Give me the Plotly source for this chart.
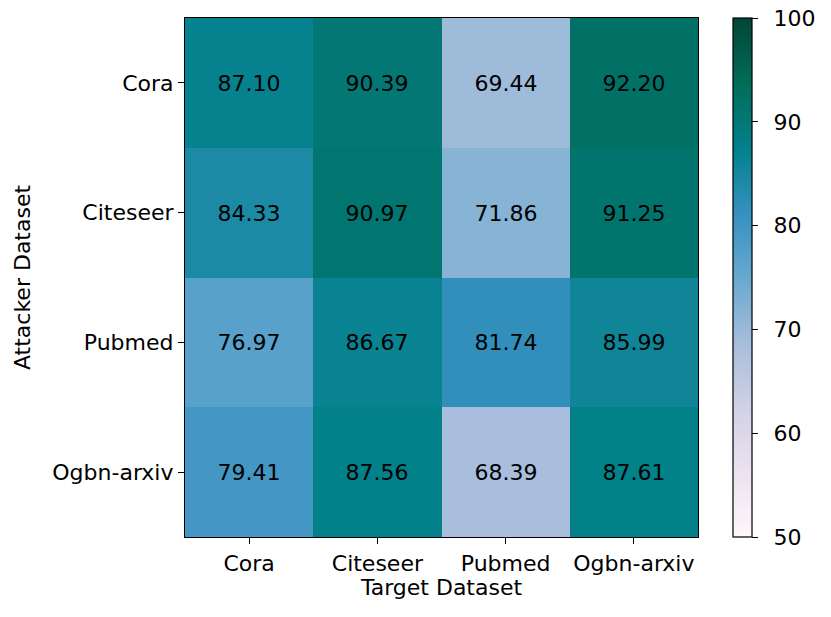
import plotly.graph_objects as go

targets = ["Cora", "Citeseer", "Pubmed", "Ogbn-arxiv"]
attackers = ["Cora", "Citeseer", "Pubmed", "Ogbn-arxiv"]
acc = [
    [87.10, 90.39, 69.44, 92.20],
    [84.33, 90.97, 71.86, 91.25],
    [76.97, 86.67, 81.74, 85.99],
    [79.41, 87.56, 68.39, 87.61],
]
cbar_ticks = [50, 60, 70, 80, 90, 100]

font = dict(family="DejaVu Sans", size=22, color="black")

fig = go.Figure(go.Heatmap(
    z=acc, x=targets, y=attackers,
    colorscale="PuBuGn", zmin=50, zmax=100,
    texttemplate="%{z:.2f}", textfont=dict(family="DejaVu Sans", size=22, color="black"),
    xgap=0, ygap=0,
    colorbar=dict(
        x=1.068, xanchor="left", xpad=0, y=0.5, yanchor="middle", ypad=0,
        len=1, lenmode="fraction",
        thickness=19, outlinewidth=1.2, outlinecolor="black",
        tickmode="array", tickvals=cbar_ticks, ticktext=["\u2002" + str(t) for t in cbar_ticks],
        ticks="outside", ticklen=6, ticklabeloverflow="allow",
        tickcolor="black", tickfont=font,
    ),
))

axis_style = dict(
    showline=True, linecolor="black", linewidth=1.2, mirror=True,
    ticks="outside", ticklen=6, tickcolor="black", tickfont=font,
    showgrid=False, zeroline=False,
)
fig.update_xaxes(title=dict(text="Target Dataset", font=font, standoff=5), **axis_style)
fig.update_yaxes(title=dict(text="Attacker Dataset", font=font, standoff=15),
                 autorange="reversed", **axis_style)

fig.update_layout(
    width=831, height=617,
    margin=dict(l=185, r=133, t=18, b=80),
    paper_bgcolor="white", plot_bgcolor="white",
    font=font,
)

# drop the default page margin so the figure sits at the window's corner
fig.write_html("out.html", config={"displayModeBar": False},
               post_script="document.body.style.margin='0';")
